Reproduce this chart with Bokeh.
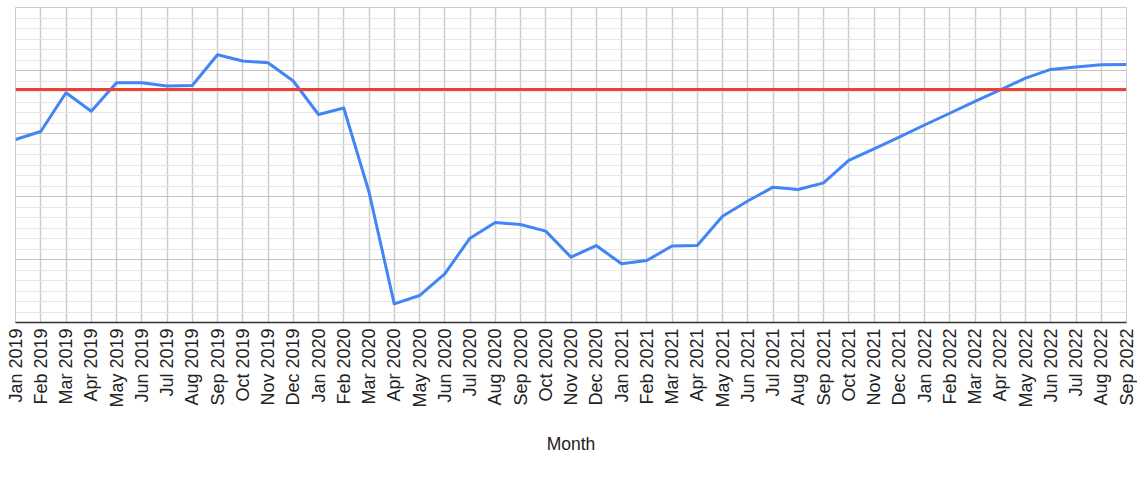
import math
from bokeh.plotting import figure
from bokeh.models import Range1d, FixedTicker, Legend, LegendItem
from bokeh.embed import file_html
from bokeh.resources import INLINE

months = [
    "Jan 2019", "Feb 2019", "Mar 2019", "Apr 2019", "May 2019", "Jun 2019",
    "Jul 2019", "Aug 2019", "Sep 2019", "Oct 2019", "Nov 2019", "Dec 2019",
    "Jan 2020", "Feb 2020", "Mar 2020", "Apr 2020", "May 2020", "Jun 2020",
    "Jul 2020", "Aug 2020", "Sep 2020", "Oct 2020", "Nov 2020", "Dec 2020",
    "Jan 2021", "Feb 2021", "Mar 2021", "Apr 2021", "May 2021", "Jun 2021",
    "Jul 2021", "Aug 2021", "Sep 2021", "Oct 2021", "Nov 2021", "Dec 2021",
    "Jan 2022", "Feb 2022", "Mar 2022", "Apr 2022", "May 2022", "Jun 2022",
    "Jul 2022", "Aug 2022", "Sep 2022",
]

all_regions = [
    17.43, 18.19, 21.88, 20.12, 22.83, 22.83, 22.52, 22.57, 25.50, 24.90, 24.73, 23.00,
    19.81, 20.43, 12.43, 1.78, 2.57, 4.64, 8.03, 9.52, 9.33, 8.70, 6.22, 7.33,
    5.59, 5.90, 7.29, 7.33, 10.12, 11.57, 12.89, 12.67, 13.30, 15.43, 16.54, 17.65,
    18.81, 19.93, 21.05, 22.16, 23.27, 24.10, 24.33, 24.54, 24.57,
]

avg_2019 = 22.2

y_major = [0, 6, 12, 18, 24, 30]
y_minor = list(range(0, 31))

FONT = "Liberation Sans"
TXT = "#222222"
blue = "#4285F4"
red = "#EA4335"

x = list(range(len(months)))

p = figure(
    width=1137, height=493,
    frame_width=1111, frame_height=315,
    output_backend="svg", toolbar_location=None,
    x_range=Range1d(0, len(months) - 1), y_range=Range1d(y_major[0], y_major[-1]),
    min_border_left=15, min_border_right=11, min_border_top=7, min_border_bottom=0,
    background_fill_color="white", border_fill_color="white",
)
p.outline_line_color = "#cccccc"

# grids
p.xgrid.ticker = FixedTicker(ticks=x)
p.xgrid.grid_line_color = "#cccccc"
p.xgrid.grid_line_width = 1.5
p.ygrid.ticker = FixedTicker(ticks=y_major, minor_ticks=y_minor)
p.ygrid.grid_line_color = "#c4c4c4"
p.ygrid.grid_line_width = 1.2
p.ygrid.minor_grid_line_color = "#e6e6e6"
p.ygrid.minor_grid_line_width = 1

# axes
p.yaxis.visible = False
ax = p.xaxis[0]
ax.ticker = FixedTicker(ticks=x)
ax.major_label_overrides = {i: m for i, m in enumerate(months)}
ax.major_label_orientation = math.pi / 2
ax.major_label_text_font = FONT
ax.major_label_text_font_size = "18px"
ax.major_label_text_color = TXT
ax.major_label_standoff = 6
ax.major_tick_line_color = None
ax.minor_tick_line_color = None
ax.major_tick_out = 0
ax.major_tick_in = 0
ax.minor_tick_out = 0
ax.axis_line_color = "#333333"
ax.axis_line_width = 1.5
ax.axis_label = "Month"
ax.axis_label_text_font = FONT
ax.axis_label_text_font_size = "17.5px"
ax.axis_label_text_font_style = "normal"
ax.axis_label_text_color = TXT
ax.axis_label_standoff = 23

r_all = p.line(x, all_regions, line_color=blue, line_width=3, line_join="round")
r_avg = p.line(x, [avg_2019] * len(x), line_color=red, line_width=3)

# thicker swatches for the legend (no visible points)
nan_vals = [float("nan")] * len(x)
lb = p.line(x, nan_vals, line_color=blue, line_width=6)
lr = p.line(x, nan_vals, line_color=red, line_width=6)

legend = Legend(
    items=[
        LegendItem(label="All regions", renderers=[lb]),
        LegendItem(label="Average for 2019 (a normal year)", renderers=[lr]),
    ],
    orientation="horizontal",
    location="top_center",
    glyph_width=17, glyph_height=20,
    label_standoff=13, spacing=23,
    label_text_font=FONT, label_text_font_size="17.5px", label_text_color=TXT,
    border_line_color=None, background_fill_alpha=0,
    padding=0, margin=18,
)
p.add_layout(legend, "below")

open("out.html", "w").write(file_html(p, INLINE))
